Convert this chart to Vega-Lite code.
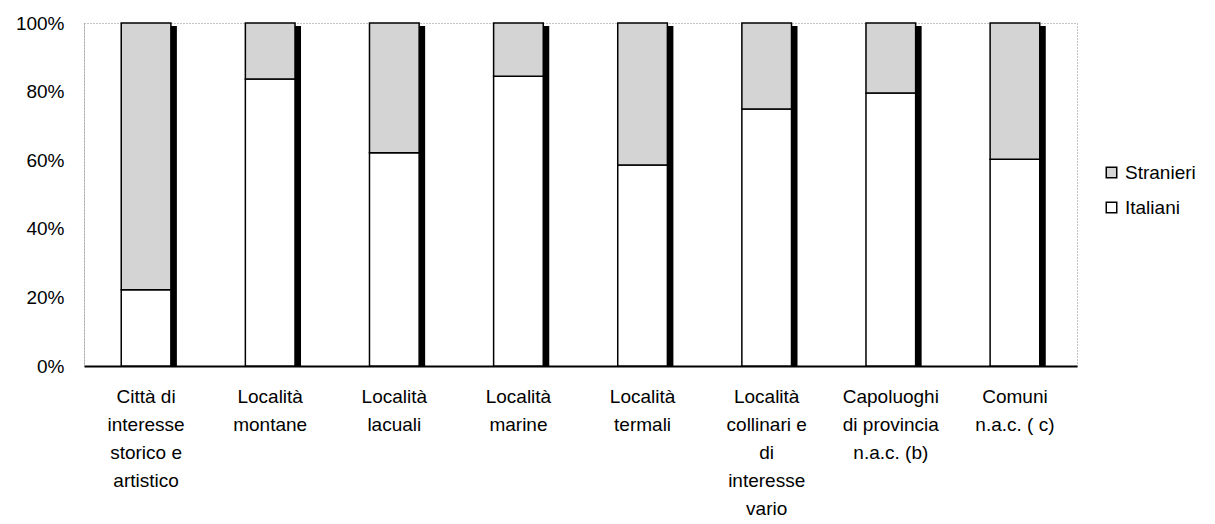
{
  "$schema": "https://vega.github.io/schema/vega-lite/v6.json",
  "width": 993,
  "height": 343,
  "autosize": {"type": "none"},
  "padding": {"left": 84, "top": 23, "right": 138, "bottom": 158},
  "background": "white",
  "config": {
    "font": "Liberation Sans",
    "view": {"stroke": "#888888", "strokeDash": [1, 2], "strokeWidth": 1}
  },
  "data": {
    "values": [
      {"cat": "Città di|interesse|storico e|artistico", "serie": "Italiani", "quota": 0.222},
      {"cat": "Città di|interesse|storico e|artistico", "serie": "Stranieri", "quota": 0.778},
      {"cat": "Località|montane", "serie": "Italiani", "quota": 0.837},
      {"cat": "Località|montane", "serie": "Stranieri", "quota": 0.163},
      {"cat": "Località|lacuali", "serie": "Italiani", "quota": 0.622},
      {"cat": "Località|lacuali", "serie": "Stranieri", "quota": 0.378},
      {"cat": "Località|marine", "serie": "Italiani", "quota": 0.845},
      {"cat": "Località|marine", "serie": "Stranieri", "quota": 0.155},
      {"cat": "Località|termali", "serie": "Italiani", "quota": 0.586},
      {"cat": "Località|termali", "serie": "Stranieri", "quota": 0.414},
      {"cat": "Località|collinari e|di|interesse|vario", "serie": "Italiani", "quota": 0.749},
      {"cat": "Località|collinari e|di|interesse|vario", "serie": "Stranieri", "quota": 0.251},
      {"cat": "Capoluoghi|di provincia|n.a.c. (b)", "serie": "Italiani", "quota": 0.796},
      {"cat": "Capoluoghi|di provincia|n.a.c. (b)", "serie": "Stranieri", "quota": 0.204},
      {"cat": "Comuni|n.a.c. ( c)", "serie": "Italiani", "quota": 0.603},
      {"cat": "Comuni|n.a.c. ( c)", "serie": "Stranieri", "quota": 0.397}
    ]
  },
  "encoding": {
    "x": {
      "field": "cat",
      "type": "nominal",
      "sort": null,
      "title": null,
      "scale": {"paddingInner": 0.6, "paddingOuter": 0.3},
      "axis": {
        "labelAngle": 0,
        "labelFontSize": 19,
        "labelColor": "black",
        "labelLineHeight": 28,
        "labelExpr": "split(datum.label, '|')",
        "labelPadding": 21,
        "labelLimit": 300,
        "ticks": false,
        "domainColor": "black",
        "domainWidth": 2
      }
    }
  },
  "layer": [
    {
      "mark": {"type": "bar", "color": "black", "xOffset": 6, "yOffset": 3, "clip": true},
      "encoding": {
        "y": {
          "aggregate": "sum",
          "field": "quota",
          "type": "quantitative",
          "scale": {"domain": [0, 1]},
          "title": null
        }
      }
    },
    {
      "mark": {"type": "bar", "stroke": "black", "strokeWidth": 1.5},
      "encoding": {
        "y": {
          "field": "quota",
          "type": "quantitative",
          "stack": "zero",
          "scale": {"domain": [0, 1]},
          "title": null,
          "axis": {
            "values": [0, 0.2, 0.4, 0.6, 0.8, 1],
            "format": ".0%",
            "labelFontSize": 19,
            "labelColor": "black",
            "labelPadding": 20,
            "ticks": false,
            "grid": false,
            "domainColor": "#888888",
            "domainDash": [1, 2]
          }
        },
        "order": {"field": "serie", "sort": "ascending"},
        "color": {
          "field": "serie",
          "type": "nominal",
          "scale": {"domain": ["Stranieri", "Italiani"], "range": ["#d4d4d4", "#ffffff"]},
          "legend": {
            "title": null,
            "orient": "none",
            "legendX": 1018,
            "legendY": 140,
            "symbolType": "square",
            "symbolSize": 110,
            "symbolStrokeColor": "black",
            "symbolStrokeWidth": 1.5,
            "labelFontSize": 19,
            "labelColor": "black",
            "rowPadding": 15,
            "labelOffset": 4
          }
        }
      }
    }
  ]
}
